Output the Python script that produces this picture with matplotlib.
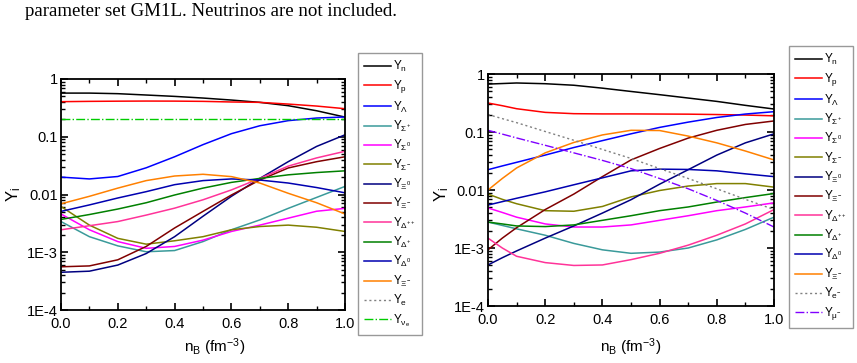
import matplotlib
matplotlib.use("Agg")
import matplotlib.pyplot as plt
from matplotlib.ticker import LogLocator, FixedLocator, FixedFormatter, MultipleLocator, NullFormatter

plt.rcParams['font.family'] = ['Liberation Sans', 'DejaVu Sans']
plt.rcParams['mathtext.fontset'] = 'custom'
plt.rcParams['mathtext.rm'] = 'Liberation Sans'
plt.rcParams['mathtext.it'] = 'Liberation Sans'
plt.rcParams['mathtext.default'] = 'regular'

# ---- datos panel izquierdo (con neutrinos atrapados) ----
x_left = [0.0, 0.1, 0.2, 0.3, 0.4, 0.5, 0.6, 0.7, 0.8, 0.9, 1.0]
left_n = [0.57, 0.57, 0.557, 0.528, 0.50, 0.468, 0.432, 0.394, 0.345, 0.282, 0.219]
left_p = [0.405, 0.41, 0.413, 0.415, 0.414, 0.41, 0.40, 0.394, 0.368, 0.34, 0.306]
left_lam = [0.020, 0.0186, 0.0205, 0.029, 0.045, 0.073, 0.113, 0.155, 0.19, 0.211, 0.22]
left_sigp = [0.0034, 0.00186, 0.00129, 0.00102, 0.00107, 0.00153, 0.00245, 0.00363, 0.00575, 0.0089, 0.0138]
left_sig0 = [0.0046, 0.00245, 0.00153, 0.00117, 0.00126, 0.00162, 0.00229, 0.00295, 0.00389, 0.00513, 0.00575]
left_sigm = [0.0062, 0.00295, 0.00174, 0.00138, 0.00158, 0.00186, 0.00245, 0.00279, 0.00295, 0.00271, 0.00229]
left_xi0 = [0.00045, 0.00047, 0.0006, 0.00095, 0.00186, 0.0042, 0.0093, 0.019, 0.037, 0.068, 0.108]
left_xim = [0.00056, 0.00058, 0.00074, 0.00126, 0.00263, 0.0051, 0.0098, 0.0178, 0.0288, 0.037, 0.045]
left_dpp = [0.00245, 0.00288, 0.0034, 0.0044, 0.0058, 0.0081, 0.012, 0.019, 0.031, 0.043, 0.056]
left_dp = [0.0037, 0.0045, 0.0056, 0.0072, 0.0098, 0.0129, 0.0162, 0.019, 0.0219, 0.024, 0.0257]
left_d0 = [0.0051, 0.0066, 0.0087, 0.0112, 0.0148, 0.0174, 0.0186, 0.0178, 0.0158, 0.0132, 0.0107]
left_dm = [0.0069, 0.0093, 0.0129, 0.0174, 0.0209, 0.0224, 0.0204, 0.0158, 0.0105, 0.0072, 0.0046]
left_nue = [0.2, 0.2, 0.2, 0.2, 0.2, 0.2, 0.2, 0.2, 0.2, 0.2, 0.2]

# ---- datos panel derecho (sin neutrinos) ----
x_right = [0.0, 0.05, 0.1, 0.2, 0.3, 0.4, 0.5, 0.6, 0.7, 0.8, 0.9, 1.0]
right_n = [0.67, 0.685, 0.70, 0.68, 0.64, 0.57, 0.50, 0.44, 0.385, 0.337, 0.288, 0.249]
right_p = [0.316, 0.284, 0.252, 0.218, 0.207, 0.205, 0.205, 0.204, 0.203, 0.200, 0.196, 0.19]
right_lam = [0.0224, 0.026, 0.030, 0.040, 0.054, 0.071, 0.093, 0.120, 0.148, 0.178, 0.204, 0.224]
right_sigp = [0.0028, 0.00245, 0.00214, 0.00166, 0.0012, 0.00093, 0.00081, 0.00085, 0.0010, 0.00138, 0.00209, 0.0034]
right_sig0 = [0.0049, 0.0041, 0.0034, 0.0026, 0.0023, 0.0023, 0.0025, 0.0030, 0.0036, 0.0044, 0.0051, 0.006]
right_sigm = [0.0085, 0.0069, 0.0058, 0.0044, 0.0043, 0.0052, 0.0076, 0.0098, 0.0117, 0.0129, 0.0129, 0.0112]
right_xi0 = [0.00051, 0.00068, 0.00089, 0.00148, 0.0024, 0.004, 0.0068, 0.0126, 0.0224, 0.040, 0.065, 0.093]
right_xim = [0.00093, 0.00148, 0.00224, 0.0046, 0.0085, 0.017, 0.033, 0.052, 0.0785, 0.107, 0.135, 0.155]
right_dpp = [0.00148, 0.0010, 0.00072, 0.00056, 0.0005, 0.00051, 0.00063, 0.00081, 0.00112, 0.00166, 0.0026, 0.0046]
right_dp = [0.0028, 0.0026, 0.0024, 0.00234, 0.0025, 0.0030, 0.0036, 0.0044, 0.0051, 0.0062, 0.0074, 0.0087]
right_d0 = [0.0055, 0.0063, 0.0072, 0.0093, 0.0123, 0.0162, 0.0214, 0.0229, 0.0226, 0.0214, 0.019, 0.017]
right_dm = [0.010, 0.0158, 0.024, 0.0437, 0.066, 0.089, 0.107, 0.106, 0.085, 0.065, 0.047, 0.033]
right_e = [0.20, 0.17, 0.145, 0.102, 0.072, 0.050, 0.035, 0.0234, 0.0158, 0.0105, 0.0069, 0.0046]
right_mu = [0.107, 0.092, 0.079, 0.059, 0.0437, 0.0324, 0.0234, 0.0158, 0.0105, 0.0066, 0.0040, 0.0023]

colores = ['black', '#ff0000', '#0000ff', '#3a9a9a', '#ff00ff', '#808000',
           '#000080', '#800000', '#ff3399', '#008000', '#0000b0', '#ff8000']
etiquetas = [r'$Y_{n}$', r'$Y_{p}$', r'$Y_{\Lambda}$', r'$Y_{\Sigma^{+}}$', r'$Y_{\Sigma^{0}}$',
             r'$Y_{\Sigma^{-}}$', r'$Y_{\Xi^{0}}$', r'$Y_{\Xi^{-}}$', r'$Y_{\Delta^{++}}$',
             r'$Y_{\Delta^{+}}$', r'$Y_{\Delta^{0}}$', r'$Y_{\Xi^{-}}$']

fig = plt.figure(figsize=(8.57, 3.63), dpi=100)
fig.text(25 / 857, 1 - 12 / 363, "parameter set GM1L. Neutrinos are not included.",
         family=['Liberation Serif', 'DejaVu Serif'], fontsize=13.6, va='center', ha='left')


def preparar_ejes(ax, ylab_x, ylab_y, xlab_x, xlab_y):
    ax.set_yscale('log')
    ax.set_xlim(0, 1)
    ax.set_ylim(1e-4, 1)
    ax.yaxis.set_major_locator(FixedLocator([1e-4, 1e-3, 1e-2, 1e-1, 1]))
    ax.yaxis.set_major_formatter(FixedFormatter(['1E-4', '1E-3', '0.01', '0.1', '1']))
    ax.yaxis.set_minor_locator(LogLocator(base=10, subs=range(2, 10)))
    ax.yaxis.set_minor_formatter(NullFormatter())
    ax.xaxis.set_major_locator(MultipleLocator(0.2))
    ax.xaxis.set_minor_locator(MultipleLocator(0.1))
    ax.xaxis.set_major_formatter(plt.FuncFormatter(lambda v, p: f"{v:.1f}"))
    ax.tick_params(which='both', direction='in', top=True, right=True, labelsize=10.5)
    ax.tick_params(which='major', length=5, width=1.2)
    ax.tick_params(which='minor', length=3, width=1)
    ax.tick_params(axis='y', pad=2)
    ax.tick_params(axis='x', pad=5)
    for s in ax.spines.values():
        s.set_linewidth(1.3)
    ax.set_ylabel(r'$Y_{i}$', fontsize=12)
    ax.yaxis.set_label_coords(ylab_x, ylab_y)
    ax.set_xlabel(r'$n_{B}$ (fm$^{-3}$)', fontsize=11)
    ax.xaxis.set_label_coords(xlab_x, xlab_y)


# panel izquierdo
ax1 = fig.add_axes([61 / 857, 1 - 310 / 363, 284 / 857, 231 / 363])
series_izq = [left_n, left_p, left_lam, left_sigp, left_sig0, left_sigm, left_xi0,
              left_xim, left_dpp, left_dp, left_d0, left_dm]
for y, c, lab in zip(series_izq, colores, etiquetas):
    ax1.plot(x_left, y, color=c, lw=1.1, label=lab)
ax1.plot([], [], color='#808080', lw=1, ls=(0, (1.5, 2)), label=r'$Y_{e}$')
ax1.plot(x_left, left_nue, color='#00cc00', lw=1, ls='-.', label=r'$Y_{\nu_e}$')
preparar_ejes(ax1, -0.135, 0.5, 0.54, -0.115)

# panel derecho
ax2 = fig.add_axes([488 / 857, 1 - 306 / 363, 286 / 857, 232 / 363])
series_der = [right_n, right_p, right_lam, right_sigp, right_sig0, right_sigm, right_xi0,
              right_xim, right_dpp, right_dp, right_d0, right_dm]
for y, c, lab in zip(series_der, colores, etiquetas):
    ax2.plot(x_right, y, color=c, lw=1.1, label=lab)
ax2.plot(x_right, right_e, color='#808080', lw=1, ls=(0, (1.5, 2)), label=r'$Y_{e^{-}}$')
ax2.plot(x_right, right_mu, color='#8000ff', lw=1, ls='-.', label=r'$Y_{\mu^{-}}$')
preparar_ejes(ax2, -0.13, 0.48, 0.50, -0.13)

for ax, anchor in [(ax1, (358 / 857, 1 - 53 / 363)), (ax2, (789 / 857, 1 - 46 / 363))]:
    leg = fig.legend(*ax.get_legend_handles_labels(), loc='upper left', bbox_to_anchor=anchor,
                     fontsize=8.5, frameon=True, fancybox=False, handlelength=2.3,
                     handletextpad=0.15, labelspacing=0.36, borderpad=0.5, borderaxespad=0)
    leg.get_frame().set_edgecolor('#808080')
    leg.get_frame().set_linewidth(1)

fig.savefig("out.png", dpi=100)
